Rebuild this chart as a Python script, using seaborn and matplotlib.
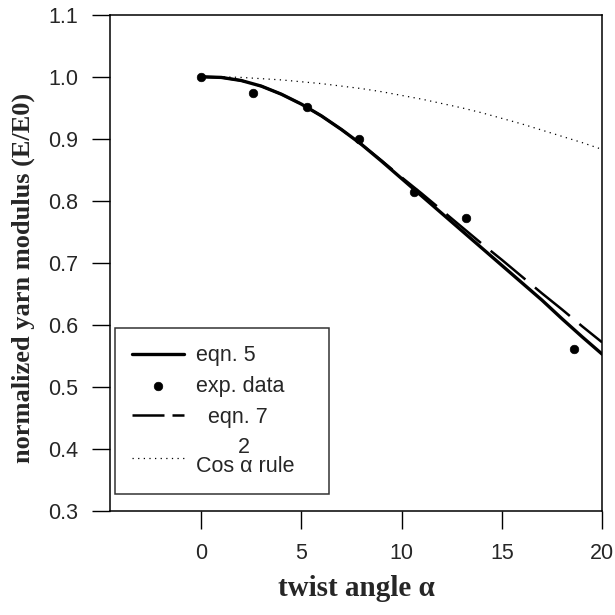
import matplotlib
matplotlib.use("Agg")
import matplotlib.pyplot as plt
import seaborn as sns
import pandas as pd

# measured points (twist angle in degrees, E/E0)
exp_angle = [0.0, 2.6, 5.3, 7.9, 10.6, 13.2, 18.6]
exp_mod = [1.000, 0.974, 0.952, 0.899, 0.815, 0.772, 0.561]

# model curves, every degree
curve_angle = list(range(0, 21))
eqn5 = [1.000, 0.999, 0.994, 0.985, 0.972, 0.956, 0.937, 0.915, 0.891, 0.864, 0.836,
        0.808, 0.780, 0.752, 0.724, 0.696, 0.668, 0.640, 0.610, 0.581, 0.553]
eqn7 = [1.000, 0.999, 0.994, 0.985, 0.972, 0.956, 0.937, 0.915, 0.891, 0.865, 0.838,
        0.812, 0.785, 0.758, 0.731, 0.705, 0.678, 0.651, 0.625, 0.598, 0.572]
cos2 = [1.000, 1.000, 0.999, 0.997, 0.995, 0.992, 0.989, 0.985, 0.981, 0.976, 0.970,
        0.964, 0.957, 0.950, 0.942, 0.933, 0.924, 0.914, 0.904, 0.894, 0.883]

sns.set_style("ticks")
plt.rcParams['font.family'] = ['Liberation Sans', 'DejaVu Sans']

fig = plt.figure(figsize=(6.15, 6.15), dpi=100)
ax = fig.add_axes([0.179, 0.169, 0.800, 0.807])

df = pd.DataFrame({'angle': curve_angle, 'eqn5': eqn5, 'eqn7': eqn7, 'cos2': cos2})
pts = pd.DataFrame({'angle': exp_angle, 'mod': exp_mod})

sns.lineplot(data=df, x='angle', y='eqn5', ax=ax, color='black', lw=2.4, label='eqn. 5')
sns.scatterplot(data=pts, x='angle', y='mod', ax=ax, color='black', s=38, edgecolor='black',
                label='exp. data', zorder=5)
sns.lineplot(data=df, x='angle', y='eqn7', ax=ax, color='black', lw=1.8, label='  eqn. 7')
ax.lines[-1].set_dashes([18, 5])
sns.lineplot(data=df, x='angle', y='cos2', ax=ax, color='black', lw=0.9,
             label='       2\nCos α rule   ')
ax.lines[-1].set_linestyle((0, (1, 3.5)))

ax.set_xlim(-4.54, 20)
ax.set_ylim(0.3, 1.1)
ax.set_xticks([0, 5, 10, 15, 20])
ax.set_yticks([0.3, 0.4, 0.5, 0.6, 0.7, 0.8, 0.9, 1.0, 1.1])
ax.set_yticklabels(['0.3', '0.4', '0.5', '0.6', '0.7', '0.8', '0.9', '1.0', '1.1'])
ax.tick_params(direction='out', length=13, width=1, labelsize=15.5, pad=10, color='black')
for s in ax.spines.values():
    s.set_color('black')
    s.set_linewidth(1.1)

ax.set_xlabel('twist angle α', family='Liberation Serif', weight='bold', fontsize=21, labelpad=8)
ax.set_ylabel('normalized yarn modulus (E/E0)', family='Liberation Serif', weight='bold',
              fontsize=19)
ax.yaxis.set_label_coords(-0.152, 0.47)

leg = ax.legend(loc='lower left', bbox_to_anchor=(0.010, 0.034), borderaxespad=0,
                fontsize=15.5, frameon=True, fancybox=False, edgecolor='black',
                handlelength=2.4, borderpad=0.8, labelspacing=0.45, handletextpad=0.55)
leg.get_frame().set_linewidth(1.1)
for t in leg.get_texts():
    t.set_linespacing(0.85)
leg_lines = leg.get_lines()
leg_lines[1].set_dashes([12.8, 3.2])

fig.savefig('out.png', dpi=100)
